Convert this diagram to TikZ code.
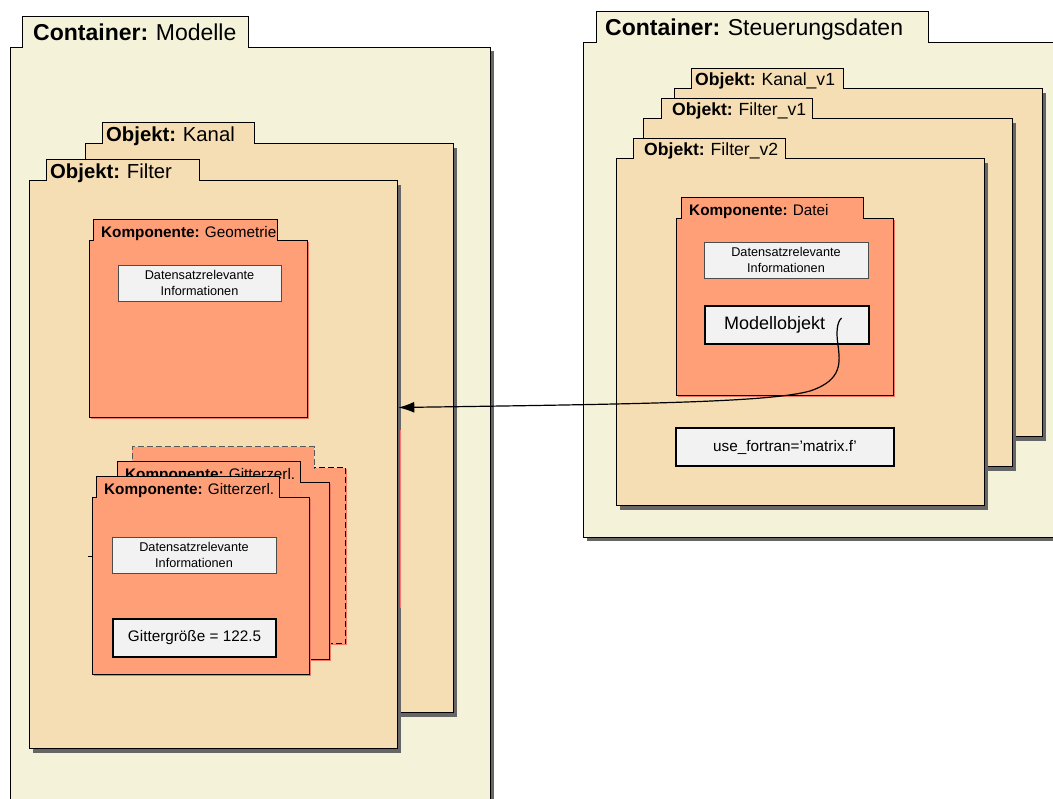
\documentclass[tikz,border=0pt]{standalone}
\usepackage{fontspec}
\setmainfont{Liberation Sans}
\usetikzlibrary{shadows, arrows.meta, positioning}
\frenchspacing

\definecolor{contfill}{HTML}{F4F3DA}
\definecolor{objfill}{HTML}{F5DEB3}
\definecolor{compfill}{HTML}{FF9F78}
\definecolor{infofill}{HTML}{F2F2F2}
\definecolor{shadowgrey}{HTML}{666666}
\definecolor{compshade}{HTML}{F07868}

\begin{document}
\begin{tikzpicture}[x=1pt, y=-1pt, >={Latex[length=16pt,width=11pt]}]

		\tikzset{body/.style={draw, anchor=north west, inner sep=0pt},
				 cont st/.style={body, fill=contfill, line width=1.3pt,
								drop shadow={shadow xshift=3.5pt, shadow yshift=-3.5pt,
											 opacity=1, fill=shadowgrey}},
				 obj st/.style={body, fill=objfill, line width=1.3pt,
								drop shadow={shadow xshift=3pt, shadow yshift=-4pt,
											 opacity=1, fill=shadowgrey}},
				 comp st/.style={body, fill=compfill, line width=1.2pt,
								drop shadow={shadow xshift=1.5pt, shadow yshift=-1.5pt,
											 opacity=1, fill=compshade}},
				 tab/.style={anchor=south west, align=left, text depth=0pt, inner ysep=0pt,
							 execute at begin node=\hbox\bgroup, execute at end node=\egroup},
				 cont tab/.style={tab, fill=contfill, inner xsep=11pt, minimum height=31pt,
								text height=17pt, font=\fontsize{23}{27}\selectfont},
				 obj tab/.style={tab, fill=objfill, inner xsep=4pt, minimum height=21pt,
								text height=16pt, font=\fontsize{20.3}{24}\selectfont},
				 objv tab/.style={tab, fill=objfill, inner xsep=4pt, minimum height=20pt,
								text height=14pt, font=\fontsize{17.6}{21}\selectfont},
				 comp tab/.style={tab, fill=compfill, inner xsep=8pt, minimum height=21pt,
								text height=15pt, font=\fontsize{15.3}{18}\selectfont},
				 tab line/.style={line width=1pt},
				 info/.style={draw=black!70, fill=infofill, line width=0.8pt, inner sep=0pt,
								align=center, font=\fontsize{12.7}{15.5}\selectfont},
				 value/.style={draw, fill=infofill, line width=1.2pt, inner sep=0pt,
								font=\fontsize{15.3}{18}\selectfont}}

		\path[use as bounding box, clip] (0,0) rectangle (1053,799);

		% Container: Modelle
		\node[cont st, minimum width=480, minimum height=780] (Modelle) at (10,47) {};
		\node[cont tab, text width=204] (ModelleTab) at ([shift={(12,1)}]Modelle.north west) {\textbf{Container:} Modelle};
		\draw[tab line] (ModelleTab.south west) |- (ModelleTab.north east) -- (ModelleTab.south east);

		% Container: Steuerungsdaten
		\node[cont st, minimum width=480, minimum height=495] (Steuerung) at (583,42) {};
		\node[cont tab, inner xsep=9pt, text width=314] (SteuerungTab) at ([shift={(13,1)}]Steuerung.north west) {\textbf{Container:} Steuerungsdaten};
		\draw[tab line] (SteuerungTab.south west) |- (SteuerungTab.north east) -- (SteuerungTab.south east);

		% Objekte links
		\node[obj st, minimum width=368, minimum height=569] (Kanal) at (85,143) {};
		\node[obj tab, text width=144] (KanalTab) at ([shift={(17,1)}]Kanal.north west) {\textbf{Objekt:} Kanal};
		\draw[tab line] (KanalTab.south west) |- (KanalTab.north east) -- (KanalTab.south east);

		\node[obj st, minimum width=368, minimum height=568] (Filter) at (29,180) {};
		\node[obj tab, text width=145] (FilterTab) at ([shift={(17,1)}]Filter.north west) {\textbf{Objekt:} Filter};
		\draw[tab line] (FilterTab.south west) |- (FilterTab.north east) -- (FilterTab.south east);

		% Objekte rechts
		\node[obj st, minimum width=368, minimum height=348] (KanalV) at (674,88) {};
		\node[objv tab, text width=144] (KanalVTab) at ([shift={(17,1)}]KanalV.north west) {\textbf{Objekt:} Kanal\_v1};
		\draw[tab line] (KanalVTab.south west) |- (KanalVTab.north east) -- (KanalVTab.south east);

		\node[obj st, minimum width=369, minimum height=348] (FilterVa) at (643,118) {};
		\node[objv tab, inner xsep=11pt, text width=129] (FilterVaTab) at ([shift={(18,1)}]FilterVa.north west) {\textbf{Objekt:} Filter\_v1};
		\draw[tab line] (FilterVaTab.south west) |- (FilterVaTab.north east) -- (FilterVaTab.south east);

		\node[obj st, minimum width=368, minimum height=347] (FilterVb) at (616,158) {};
		\node[objv tab, inner xsep=11pt, text width=130] (FilterVbTab) at ([shift={(17,1)}]FilterVb.north west) {\textbf{Objekt:} Filter\_v2};
		\draw[tab line] (FilterVbTab.south west) |- (FilterVbTab.north east) -- (FilterVbTab.south east);

		% Komponente: Geometrie
		\node[comp st, minimum width=218, minimum height=177] (Geo) at (89,240) {};
		\node[comp tab, text width=168] (GeoTab) at ([shift={(4,1)}]Geo.north west) {\textbf{Komponente:} Geometrie};
		\draw[tab line] (GeoTab.south west) |- (GeoTab.north east) -- (GeoTab.south east);
		\node[info, minimum width=163, minimum height=36] (GeoInfo) at (199.5,283) {Datensatzrelevante\\Informationen};

		% Komponente: Gitterzerl. (Stapel)
		\node[comp st, dashed, dash pattern=on 6pt off 3pt, minimum width=217, minimum height=176] (GitterC) at (128,467) {};
		\node[comp tab, text width=166] (GitterCTab) at ([shift={(4,1)}]GitterC.north west) {};
		\draw[tab line, draw=black!65, dash pattern=on 6pt off 3pt] (GitterCTab.south west) |- (GitterCTab.north east) -- (GitterCTab.south east);
		\draw[compshade, dashed, line width=0.8pt] (311,587) -- (311,630);

		\node[comp st, minimum width=217, minimum height=177] (GitterB) at (112,482) {};
		\node[comp tab, text width=167] (GitterBTab) at ([shift={(5,1)}]GitterB.north west) {\textbf{Komponente:} Gitterzerl.};
		\draw[tab line] (GitterBTab.south west) |- (GitterBTab.north east) -- (GitterBTab.south east);

		\node[comp st, minimum width=217, minimum height=177] (GitterA) at (92,497) {};
		\node[comp tab, text width=167] (GitterATab) at ([shift={(4,1)}]GitterA.north west) {\textbf{Komponente:} Gitterzerl.};
		\draw[tab line] (GitterATab.south west) |- (GitterATab.north east) -- (GitterATab.south east);
		\node[info, minimum width=164, minimum height=36] (GitterInfo) at (194,555) {Datensatzrelevante\\Informationen};
		\node[value, minimum width=163, minimum height=38] (Groesse) at (194.5,638) {Gittergröße = 122.5};
		\draw[line width=0.8pt] (88,556) -- (92,556);

		\draw[red!55, line width=0.5pt] (400,430) -- (400,608);

		% Komponente: Datei
		\node[comp st, minimum width=217, minimum height=177] (Datei) at (676,218) {};
		\node[comp tab, text width=166] (DateiTab) at ([shift={(5,1)}]Datei.north west) {\textbf{Komponente:} Datei};
		\draw[tab line] (DateiTab.south west) |- (DateiTab.north east) -- (DateiTab.south east);
		\node[info, minimum width=164, minimum height=36] (DateiInfo) at (786,260) {Datensatzrelevante\\Informationen};
		\node[value, minimum width=164, minimum height=38, inner xsep=19pt, text width=126, align=left,
			  font=\fontsize{18}{21}\selectfont] (Modell) at (787,325) {Modellobjekt};

		\node[value, minimum width=218, minimum height=38] (Fortran) at (785,447) {use\_fortran='matrix.f'};

		% Verweis
		\coordinate (hook) at ([shift={(-28,-7)}]Modell.east);
		\coordinate (target) at ([shift={(0,227.5)}]Filter.north east);
		\draw[->, line width=1.2pt] (hook) .. controls (837,322) and (836,332) .. (838,345)
			.. controls (840,362) and (843,380) .. (810,391)
			.. controls (770,402) and (650,404) .. (target);

\end{tikzpicture}
\end{document}
